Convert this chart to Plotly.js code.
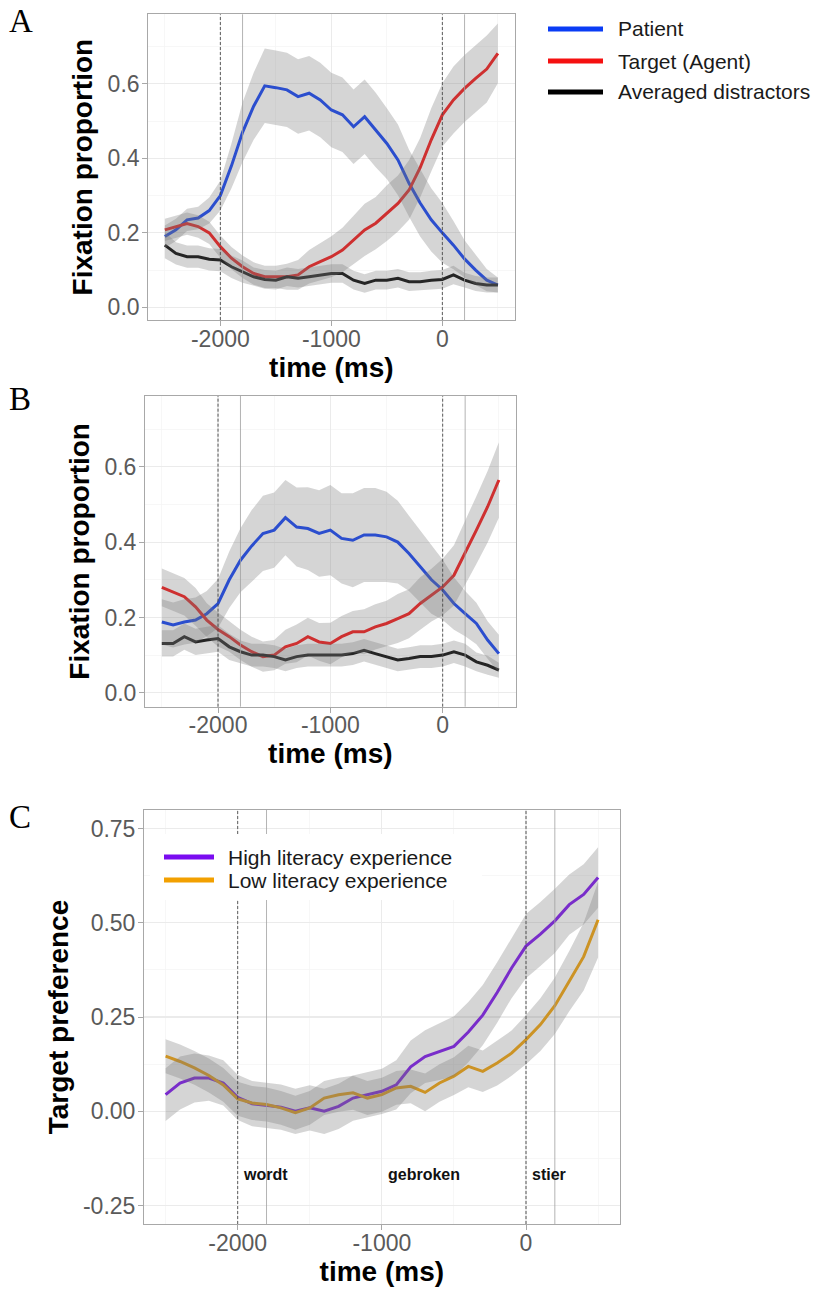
<!DOCTYPE html>
<html>
<head>
<meta charset="utf-8">
<script src="https://cdn.plot.ly/plotly-3.0.1.min.js"></script>
<style>html,body{margin:0;padding:0;background:#fff;}#chart{width:817px;height:1293px;}</style>
</head>
<body>
<div id="chart"></div>
<script>
// ---------- DATA ----------
const time = [-2500,-2400,-2300,-2200,-2100,-2000,-1900,-1800,-1700,-1600,-1500,-1400,-1300,-1200,-1100,-1000,-900,-800,-700,-600,-500,-400,-300,-200,-100,0,100,200,300,400,500];

// Panel A
const patientA = [0.19,0.208,0.235,0.24,0.26,0.30,0.38,0.47,0.54,0.595,0.59,0.584,0.566,0.575,0.557,0.53,0.517,0.485,0.512,0.476,0.44,0.396,0.333,0.28,0.235,0.2,0.167,0.13,0.10,0.073,0.06];
const patientA_se = [0.03,0.03,0.03,0.03,0.035,0.04,0.06,0.08,0.09,0.1,0.1,0.1,0.1,0.1,0.1,0.1,0.1,0.1,0.1,0.1,0.095,0.095,0.09,0.09,0.085,0.08,0.065,0.05,0.04,0.03,0.02];
const targetA = [0.208,0.217,0.225,0.217,0.2,0.163,0.132,0.109,0.091,0.082,0.082,0.082,0.087,0.109,0.123,0.136,0.154,0.181,0.208,0.226,0.253,0.279,0.315,0.375,0.45,0.517,0.557,0.588,0.615,0.64,0.682];
const targetA_se = [0.03,0.03,0.03,0.03,0.03,0.03,0.03,0.03,0.03,0.03,0.03,0.035,0.04,0.045,0.05,0.055,0.06,0.065,0.07,0.07,0.075,0.075,0.08,0.08,0.085,0.085,0.09,0.09,0.09,0.09,0.08];
const distrA = [0.167,0.145,0.136,0.136,0.129,0.127,0.109,0.096,0.082,0.075,0.073,0.082,0.078,0.082,0.087,0.091,0.091,0.073,0.064,0.073,0.073,0.078,0.069,0.069,0.073,0.075,0.087,0.073,0.064,0.06,0.06];
const distrA_se = [0.035,0.03,0.03,0.03,0.03,0.03,0.03,0.03,0.025,0.025,0.025,0.025,0.025,0.025,0.025,0.025,0.025,0.025,0.025,0.025,0.025,0.025,0.025,0.025,0.025,0.025,0.025,0.02,0.02,0.02,0.02];

// Panel B
const patientB = [0.188,0.18,0.188,0.193,0.21,0.237,0.30,0.352,0.39,0.423,0.432,0.465,0.44,0.436,0.423,0.432,0.41,0.405,0.419,0.419,0.414,0.40,0.37,0.335,0.30,0.273,0.237,0.21,0.184,0.14,0.104];
const patientB_se = [0.06,0.06,0.06,0.06,0.06,0.065,0.075,0.085,0.095,0.1,0.1,0.1,0.105,0.11,0.115,0.12,0.12,0.125,0.125,0.125,0.12,0.11,0.1,0.095,0.09,0.08,0.07,0.06,0.055,0.05,0.05];
const targetB = [0.28,0.268,0.255,0.228,0.193,0.168,0.149,0.127,0.109,0.096,0.10,0.122,0.131,0.149,0.135,0.131,0.149,0.162,0.162,0.175,0.184,0.197,0.21,0.237,0.259,0.281,0.312,0.37,0.432,0.494,0.565];
const targetB_se = [0.05,0.05,0.05,0.05,0.045,0.045,0.04,0.04,0.04,0.04,0.04,0.045,0.05,0.05,0.05,0.055,0.055,0.055,0.06,0.06,0.06,0.065,0.065,0.07,0.07,0.075,0.08,0.085,0.09,0.095,0.1];
const distrB = [0.131,0.131,0.149,0.135,0.14,0.144,0.122,0.109,0.10,0.10,0.096,0.087,0.096,0.10,0.10,0.10,0.10,0.104,0.113,0.104,0.096,0.087,0.091,0.096,0.096,0.10,0.109,0.10,0.082,0.073,0.06];
const distrB_se = [0.035,0.035,0.035,0.035,0.035,0.035,0.035,0.03,0.03,0.03,0.03,0.03,0.03,0.03,0.03,0.03,0.03,0.03,0.03,0.03,0.03,0.03,0.03,0.03,0.03,0.03,0.03,0.03,0.025,0.025,0.02];

// Panel C
const highLit = [0.044,0.075,0.088,0.088,0.075,0.037,0.02,0.016,0.011,0.0,0.009,0.0,0.013,0.035,0.044,0.053,0.07,0.118,0.145,0.158,0.172,0.21,0.255,0.315,0.38,0.438,0.47,0.505,0.548,0.575,0.62];
const highLit_se = [0.07,0.07,0.065,0.06,0.06,0.06,0.06,0.06,0.06,0.06,0.06,0.06,0.06,0.06,0.06,0.06,0.065,0.07,0.07,0.075,0.08,0.08,0.08,0.08,0.08,0.085,0.085,0.085,0.08,0.08,0.08];
const lowLit = [0.146,0.132,0.115,0.095,0.07,0.033,0.022,0.018,0.009,-0.004,0.009,0.035,0.044,0.049,0.035,0.044,0.062,0.066,0.05,0.075,0.093,0.119,0.106,0.128,0.154,0.19,0.23,0.28,0.345,0.41,0.508];
const lowLit_se = [0.045,0.045,0.045,0.045,0.045,0.045,0.045,0.045,0.045,0.045,0.045,0.045,0.045,0.045,0.045,0.045,0.045,0.045,0.05,0.05,0.05,0.055,0.055,0.06,0.06,0.065,0.07,0.075,0.08,0.09,0.1];

// Tick labels & markers
const xTickVals = [-2000,-1000,0];
const xTickText = ['-2000','-1000','0'];
const xMinorVals = [-2500,-1500,-500,500];
const yTickValsAB = [0,0.2,0.4,0.6];
const yTickTextAB = ['0.0','0.2','0.4','0.6'];
const yMinorAB = [0.1,0.3,0.5,0.7];
const yTickValsC = [-0.25,0,0.25,0.5,0.75];
const yTickTextC = ['-0.25','0.00','0.25','0.50','0.75'];
const yMinorC = [-0.125,0.125,0.375,0.625];
const dashedMarks = [-2000,0];
const solidMarks = [-1800,200];
const legendA = ['Patient','Target (Agent)','Averaged distractors'];
const legendC = ['High literacy experience','Low literacy experience'];
const wordLabels = ['wordt','gebroken','stier'];
const wordLabelX = [-1810,-705,160];
const wordLabelY = -0.168;

// ---------- STYLE ----------
const W = 817, H = 1293;
const px = v => v / W;
const py = v => 1 - v / H;
const FONT = 'Liberation Sans, Arial, Helvetica, sans-serif';
const colBlue = '#0a3cf5', colRed = '#f51010', colBlack = '#000000';
const colPurple = '#7a0cf0', colOrange = '#f2a000';
const ribbonFill = 'rgba(120,120,120,0.31)';

const traces = [];
function addSeries(m, color, xa, ya) {
  traces.push({x: time, y: m, mode: 'lines', line: {color: color, width: 3}, xaxis: xa, yaxis: ya, showlegend: false, hoverinfo: 'skip'});
}
function addRibbon(m, se, xa, ya) {
  const up = m.map((v, i) => v + se[i]);
  const lo = m.map((v, i) => v - se[i]);
  traces.push({x: time.concat(time.slice().reverse()), y: up.concat(lo.slice().reverse()),
    mode: 'lines', fill: 'toself', fillcolor: ribbonFill, line: {width: 0, color: 'rgba(0,0,0,0)'},
    xaxis: xa, yaxis: ya, showlegend: false, hoverinfo: 'skip'});
}
// lines first, ribbons drawn on top (as in the original)
addSeries(patientA, colBlue, 'x', 'y');
addSeries(targetA, colRed, 'x', 'y');
addSeries(distrA, colBlack, 'x', 'y');
addRibbon(patientA, patientA_se, 'x', 'y');
addRibbon(targetA, targetA_se, 'x', 'y');
addRibbon(distrA, distrA_se, 'x', 'y');

addSeries(patientB, colBlue, 'x2', 'y2');
addSeries(targetB, colRed, 'x2', 'y2');
addSeries(distrB, colBlack, 'x2', 'y2');
addRibbon(patientB, patientB_se, 'x2', 'y2');
addRibbon(targetB, targetB_se, 'x2', 'y2');
addRibbon(distrB, distrB_se, 'x2', 'y2');

addSeries(highLit, colPurple, 'x3', 'y3');
addSeries(lowLit, colOrange, 'x3', 'y3');
addRibbon(highLit, highLit_se, 'x3', 'y3');
addRibbon(lowLit, lowLit_se, 'x3', 'y3');

function xAxis(domain, anchor) {
  return {
    domain: domain, anchor: anchor, range: [-2650, 650],
    tickmode: 'array', tickvals: xTickVals, ticktext: xTickText,
    minor: {tickmode: 'array', tickvals: xMinorVals, showgrid: true, gridcolor: '#f3f3f3', gridwidth: 0.7, ticks: ''},
    showgrid: true, gridcolor: '#ebebeb', gridwidth: 1.1, zeroline: false,
    showline: true, mirror: true, linecolor: '#a8a8a8', linewidth: 1,
    ticks: 'outside', ticklen: 5, tickcolor: '#a8a8a8', tickwidth: 1, ticklabelstandoff: -7,
    tickfont: {family: FONT, size: 23, color: '#5a5a5a'},
    title: {text: 'time (ms)', font: {family: FONT, size: 28, color: '#000', weight: 700}, standoff: 2}
  };
}
function yAxis(domain, anchor, range, vals, text, minor, title) {
  return {
    domain: domain, anchor: anchor, range: range,
    tickmode: 'array', tickvals: vals, ticktext: text,
    minor: {tickmode: 'array', tickvals: minor, showgrid: true, gridcolor: '#f3f3f3', gridwidth: 0.7, ticks: ''},
    showgrid: true, gridcolor: '#ebebeb', gridwidth: 1.1, zeroline: false,
    showline: true, mirror: true, linecolor: '#a8a8a8', linewidth: 1,
    ticks: 'outside', ticklen: 5, tickcolor: '#a8a8a8', tickwidth: 1, ticklabelstandoff: -2,
    tickfont: {family: FONT, size: 23, color: '#5a5a5a'},
    title: {text: title, font: {family: FONT, size: 28, color: '#000', weight: 700}, standoff: 6}
  };
}

const shapes = [];
const annotations = [];
[['x', 'y'], ['x2', 'y2'], ['x3', 'y3']].forEach(([xa, ya]) => {
  solidMarks.forEach(t => shapes.push({type: 'line', xref: xa, yref: ya + ' domain', x0: t, x1: t, y0: 0, y1: 1,
    line: {color: '#a0a0a0', width: 0.8}, layer: 'above'}));
  dashedMarks.forEach(t => shapes.push({type: 'line', xref: xa, yref: ya + ' domain', x0: t, x1: t, y0: 0, y1: 1,
    line: {color: '#4a4a4a', width: 0.9, dash: '3px,2px'}, layer: 'above'}));
});

// Legend for panels A/B (outside, right)
const legAcolors = [colBlue, colRed, colBlack];
const legAy = [29, 61, 92];
legendA.forEach((name, i) => {
  shapes.push({type: 'line', xref: 'paper', yref: 'paper', x0: px(548), x1: px(603), y0: py(legAy[i]), y1: py(legAy[i]),
    line: {color: legAcolors[i], width: 5}, layer: 'above'});
  annotations.push({xref: 'paper', yref: 'paper', x: px(616), y: py(legAy[i]), xanchor: 'left', yanchor: 'middle',
    text: name, showarrow: false, font: {family: FONT, size: 21, color: '#1a1a1a'}});
});

// Legend for panel C (inside, top-left, white box)
shapes.push({type: 'rect', xref: 'paper', yref: 'paper', x0: px(150), x1: px(482), y0: py(900), y1: py(834),
  fillcolor: '#ffffff', line: {width: 0}, layer: 'above'});
const legCcolors = [colPurple, colOrange];
const legCy = [857, 880];
legendC.forEach((name, i) => {
  shapes.push({type: 'line', xref: 'paper', yref: 'paper', x0: px(164), x1: px(214), y0: py(legCy[i]), y1: py(legCy[i]),
    line: {color: legCcolors[i], width: 5}, layer: 'above'});
  annotations.push({xref: 'paper', yref: 'paper', x: px(226), y: py(legCy[i]), xanchor: 'left', yanchor: 'middle',
    text: name, showarrow: false, font: {family: FONT, size: 21, color: '#1a1a1a'}});
});

// Word labels in panel C
wordLabels.forEach((w, i) => annotations.push({xref: 'x3', yref: 'y3', x: wordLabelX[i], y: wordLabelY,
  xanchor: 'center', yanchor: 'middle', text: w, showarrow: false,
  font: {family: FONT, size: 16, color: '#111', weight: 700}}));

// Panel letters
[['A', 21], ['B', 399], ['C', 817]].forEach(([t, y]) => annotations.push({xref: 'paper', yref: 'paper',
  x: px(7), y: py(y), xanchor: 'left', yanchor: 'middle', text: t, showarrow: false,
  font: {family: 'Liberation Serif, Times New Roman, serif', size: 33, color: '#000'}}));

const layout = {
  width: W, height: H, margin: {l: 0, r: 0, t: 0, b: 0},
  paper_bgcolor: '#fff', plot_bgcolor: '#fff', showlegend: false,
  font: {family: FONT},
  xaxis: xAxis([px(148.2), px(514.5)], 'y'),
  yaxis: yAxis([py(320), py(14.3)], 'x', [-0.034, 0.787], yTickValsAB, yTickTextAB, yMinorAB, 'Fixation proportion'),
  xaxis2: xAxis([px(145), px(515.7)], 'y2'),
  yaxis2: yAxis([py(706.7), py(396)], 'x2', [-0.037, 0.788], yTickValsAB, yTickTextAB, yMinorAB, 'Fixation proportion'),
  xaxis3: xAxis([px(144), px(619.7)], 'y3'),
  yaxis3: yAxis([py(1224), py(810)], 'x3', [-0.299, 0.799], yTickValsC, yTickTextC, yMinorC, 'Target preference'),
  shapes: shapes, annotations: annotations
};
Plotly.newPlot('chart', traces, layout, {displayModeBar: false, staticPlot: true});
</script>
</body>
</html>
